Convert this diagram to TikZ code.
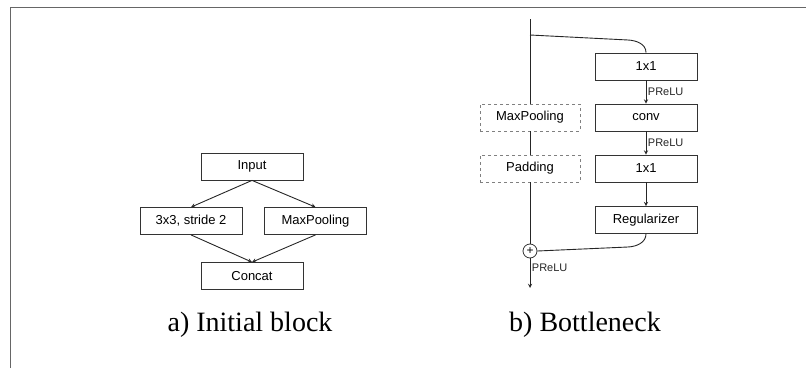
\documentclass[tikz,border=0pt]{standalone}
\usepackage{fontspec}
\setmainfont{Liberation Serif}
\newfontfamily\boxfont{Liberation Sans}
\begin{document}
\begin{tikzpicture}[>=stealth,x=1pt,y=1pt,
	blk/.style={draw=black!80,line width=0.8pt,minimum width=102pt,minimum height=27pt,inner sep=0pt,font=\boxfont\fontsize{13}{15}\selectfont},
	opt/.style={blk,draw=black!50,dashed,minimum width=100pt},
	act/.style={font=\boxfont\fontsize{11}{13}\selectfont,inner sep=1.5pt},
	line/.style={line width=0.9pt,black!85}]
	\def\w{806}
	\def\h{368}
	\useasboundingbox (0,0) rectangle (\w,\h);
	\draw[black!60,line width=1pt] (10,0) -- (10,361) -- (\w,361);
	% a) initial block
	\node[blk] (input) at (252,201.5) {Input};
	\node[blk] (conv3) at (191,147) {3x3, stride 2};
	\node[blk] (pool) at (315.5,147) {MaxPooling};
	\node[blk] (concat) at (252,92) {Concat};
	\draw[line,->] (input.south) -- (conv3.north);
	\draw[line,->] (input.south) -- (pool.north);
	\draw[line,->] (conv3.south) -- (concat.north);
	\draw[line,->] (pool.south) -- (concat.north);
	\node[font=\fontsize{28}{32}\selectfont] (capa) at (250,43) {a) Initial block};
	% b) bottleneck
	\node[blk] (ca) at (646,301.5) {1x1};
	\node[blk] (cb) at (646,250.5) {conv};
	\node[blk] (cc) at (646,199.5) {1x1};
	\node[blk] (reg) at (646,148) {Regularizer};
	\node[opt] (mp) at (530,250.5) {MaxPooling};
	\node[opt] (pad) at (530,199.5) {Padding};
	\node[draw=black!80,line width=0.8pt,circle,minimum size=14pt,inner sep=0pt,font=\boxfont\fontsize{12}{12}\selectfont] (plus) at (530,117) {+};
	\coordinate (top) at (530,349);
	\coordinate (split) at (530,333);
	\coordinate (out) at (530,80);
	\draw[line] (top) -- (mp.north);
	\draw[line] (mp.south) -- (pad.north);
	\draw[line] (pad.south) -- (plus.north);
	\draw[line] (split) -- (628,328) to[out=-3,in=90] (ca.north);
	\draw[line,->] (ca.south) -- node[act,right]{PReLU} (cb.north);
	\draw[line,->] (cb.south) -- node[act,right]{PReLU} (cc.north);
	\draw[line,->] (cc.south) -- (reg.north);
	\draw[line] (reg.south) to[out=-90,in=3] (628,121) -- (plus.east);
	\draw[line,->] (plus.south) -- node[act,pos=0.3,right]{PReLU} (out);
	\node[font=\fontsize{28}{32}\selectfont] (capb) at (585,43) {b) Bottleneck};
\end{tikzpicture}
\end{document}
